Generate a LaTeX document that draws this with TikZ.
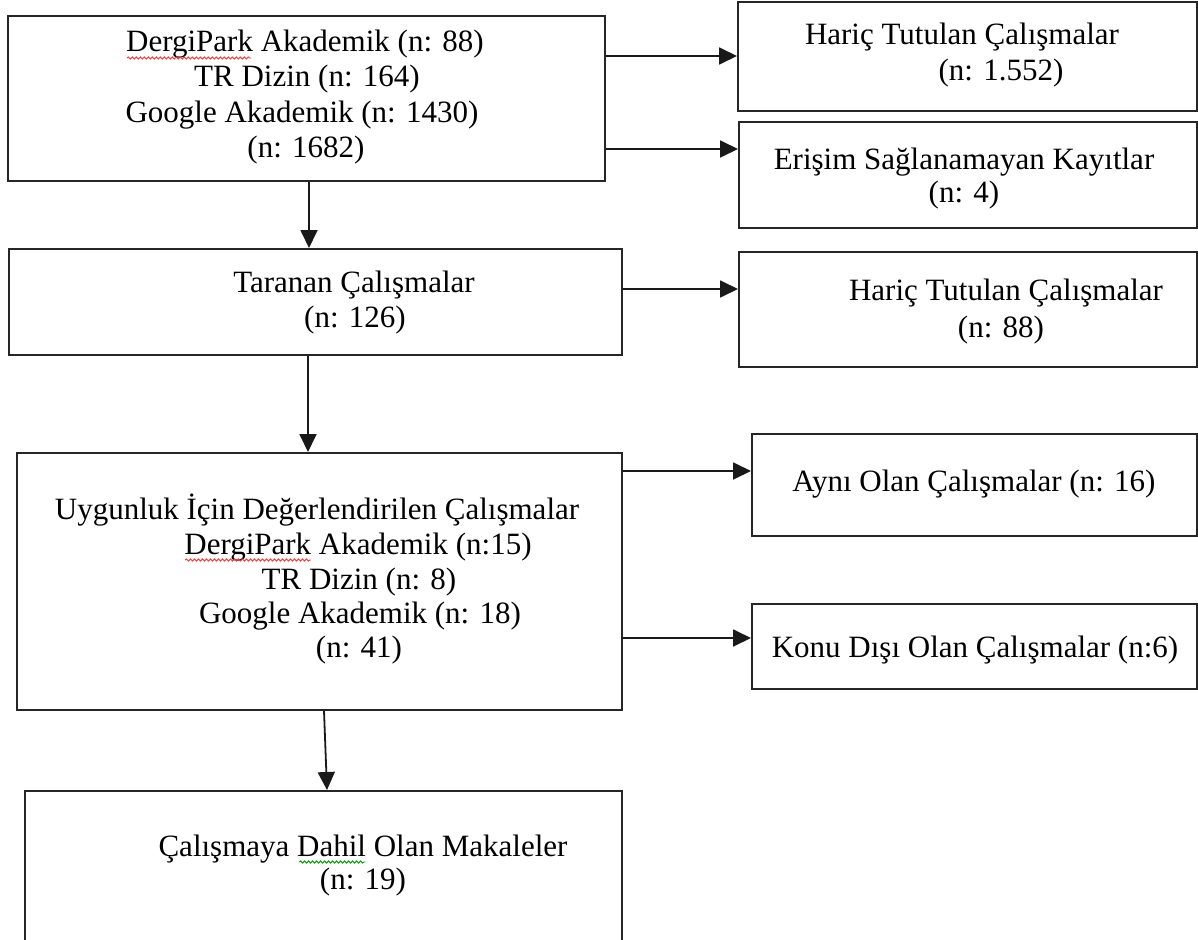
\documentclass[tikz,border=0pt]{standalone}
\usepackage{fontspec}
\setmainfont{Liberation Serif}
\usetikzlibrary{arrows.meta,decorations.pathmorphing,calc}
\begin{document}
\begin{tikzpicture}[x=1pt,y=-1pt,
  box/.style={draw=black!85, line width=1.8pt, rectangle, inner sep=0pt, anchor=north west},
  txt/.style={anchor=base, inner sep=0pt, font=\fontsize{31}{36}\selectfont, text=black},
  arr/.style={draw=black!90, line width=1.8pt, -{Triangle[length=18pt,width=17pt]}},
  wave/.style={decorate, decoration={snake, amplitude=1.1pt, segment length=4pt}, line width=0.9pt}]
\useasboundingbox (0,0) rectangle (1198,939);
\fill[white] (0,0) rectangle (1198,939);

% boxes
\node[box, minimum width=597pt, minimum height=165pt] (b1) at (7,15) {};
\node[box, minimum width=459pt, minimum height=109pt] (b2) at (737,1) {};
\node[box, minimum width=458pt, minimum height=106pt] (b3) at (738,121) {};
\node[box, minimum width=613pt, minimum height=106pt] (b4) at (8,248) {};
\node[box, minimum width=458pt, minimum height=115pt] (b5) at (738,251) {};
\node[box, minimum width=605pt, minimum height=257pt] (b6) at (16,452) {};
\node[box, minimum width=445pt, minimum height=102pt] (b7) at (751,433) {};
\node[box, minimum width=445pt, minimum height=85pt] (b8) at (751,603) {};
\node[box, minimum width=597pt, minimum height=165pt] (b9) at (24,790) {};

% texts
\node[txt] (t1a) at (305,52) {DergiPark Akademik (n: 88)};
\node[txt] (t1b) at (307,87) {TR Dizin (n: 164)};
\node[txt] (t1c) at (302,122) {Google Akademik (n: 1430)};
\node[txt] (t1d) at (306,157) {(n: 1682)};

\node[txt] (t2a) at (962,45) {Hariç Tutulan Çalışmalar};
\node[txt] (t2b) at (1001,81) {(n: 1.552)};

\node[txt] (t3a) at (964,169) {Erişim Sağlanamayan Kayıtlar};
\node[txt] (t3b) at (964,202) {(n: 4)};

\node[txt] (t4a) at (354,292) {Taranan Çalışmalar};
\node[txt] (t4b) at (355,327) {(n: 126)};

\node[txt] (t5a) at (1006,300) {Hariç Tutulan Çalışmalar};
\node[txt] (t5b) at (1001,337) {(n: 88)};

\node[txt] (t6a) at (317,519) {Uygunluk İçin Değerlendirilen Çalışmalar};
\node[txt] (t6b) at (358,554) {DergiPark Akademik (n:15)};
\node[txt] (t6c) at (359,589) {TR Dizin (n: 8)};
\node[txt] (t6d) at (360,623) {Google Akademik (n: 18)};
\node[txt] (t6e) at (359,657) {(n: 41)};

\node[txt] (t7) at (974,491) {Aynı Olan Çalışmalar (n: 16)};
\node[txt] (t8) at (975,657) {Konu Dışı Olan Çalışmalar (n:6)};

\node[txt] (t9a) at (363,856) {Çalışmaya Dahil Olan Makaleler};
\node[txt] (t9b) at (363,889) {(n: 19)};

% spell-check underlines
\draw[wave, red!80] ($(t1a.base west)+(1,6)$) -- ++(124,0);
\draw[wave, red!80] ($(t6b.base west)+(1,6)$) -- ++(126,0);
\draw[wave, green!60!black] ($(t9a.base west)+(141,6)$) -- ++(66,0);

% connector guide coordinates
\coordinate (y1) at (0,56);
\coordinate (y2) at (0,149);
\coordinate (y3) at (0,289);
\coordinate (y4) at (0,471);
\coordinate (y5) at (0,638);
\coordinate (x1) at (309,0);
\coordinate (x2) at (308,0);
\coordinate (x3) at (324,0);
\coordinate (x4) at (327,0);

% connectors
\draw[arr] (b1.east |- y1) -- (b2.west |- y1);
\draw[arr] (b1.east |- y2) -- (b3.west |- y2);
\draw[arr] (b4.east |- y3) -- (b5.west |- y3);
\draw[arr] (b6.east |- y4) -- (b7.west |- y4);
\draw[arr] (b6.east |- y5) -- (b8.west |- y5);
\draw[arr] (b1.south -| x1) -- (b4.north -| x1);
\draw[arr] (b4.south -| x2) -- (b6.north -| x2);
\draw[arr] (b6.south -| x3) -- (b9.north -| x4);
\end{tikzpicture}
\end{document}
